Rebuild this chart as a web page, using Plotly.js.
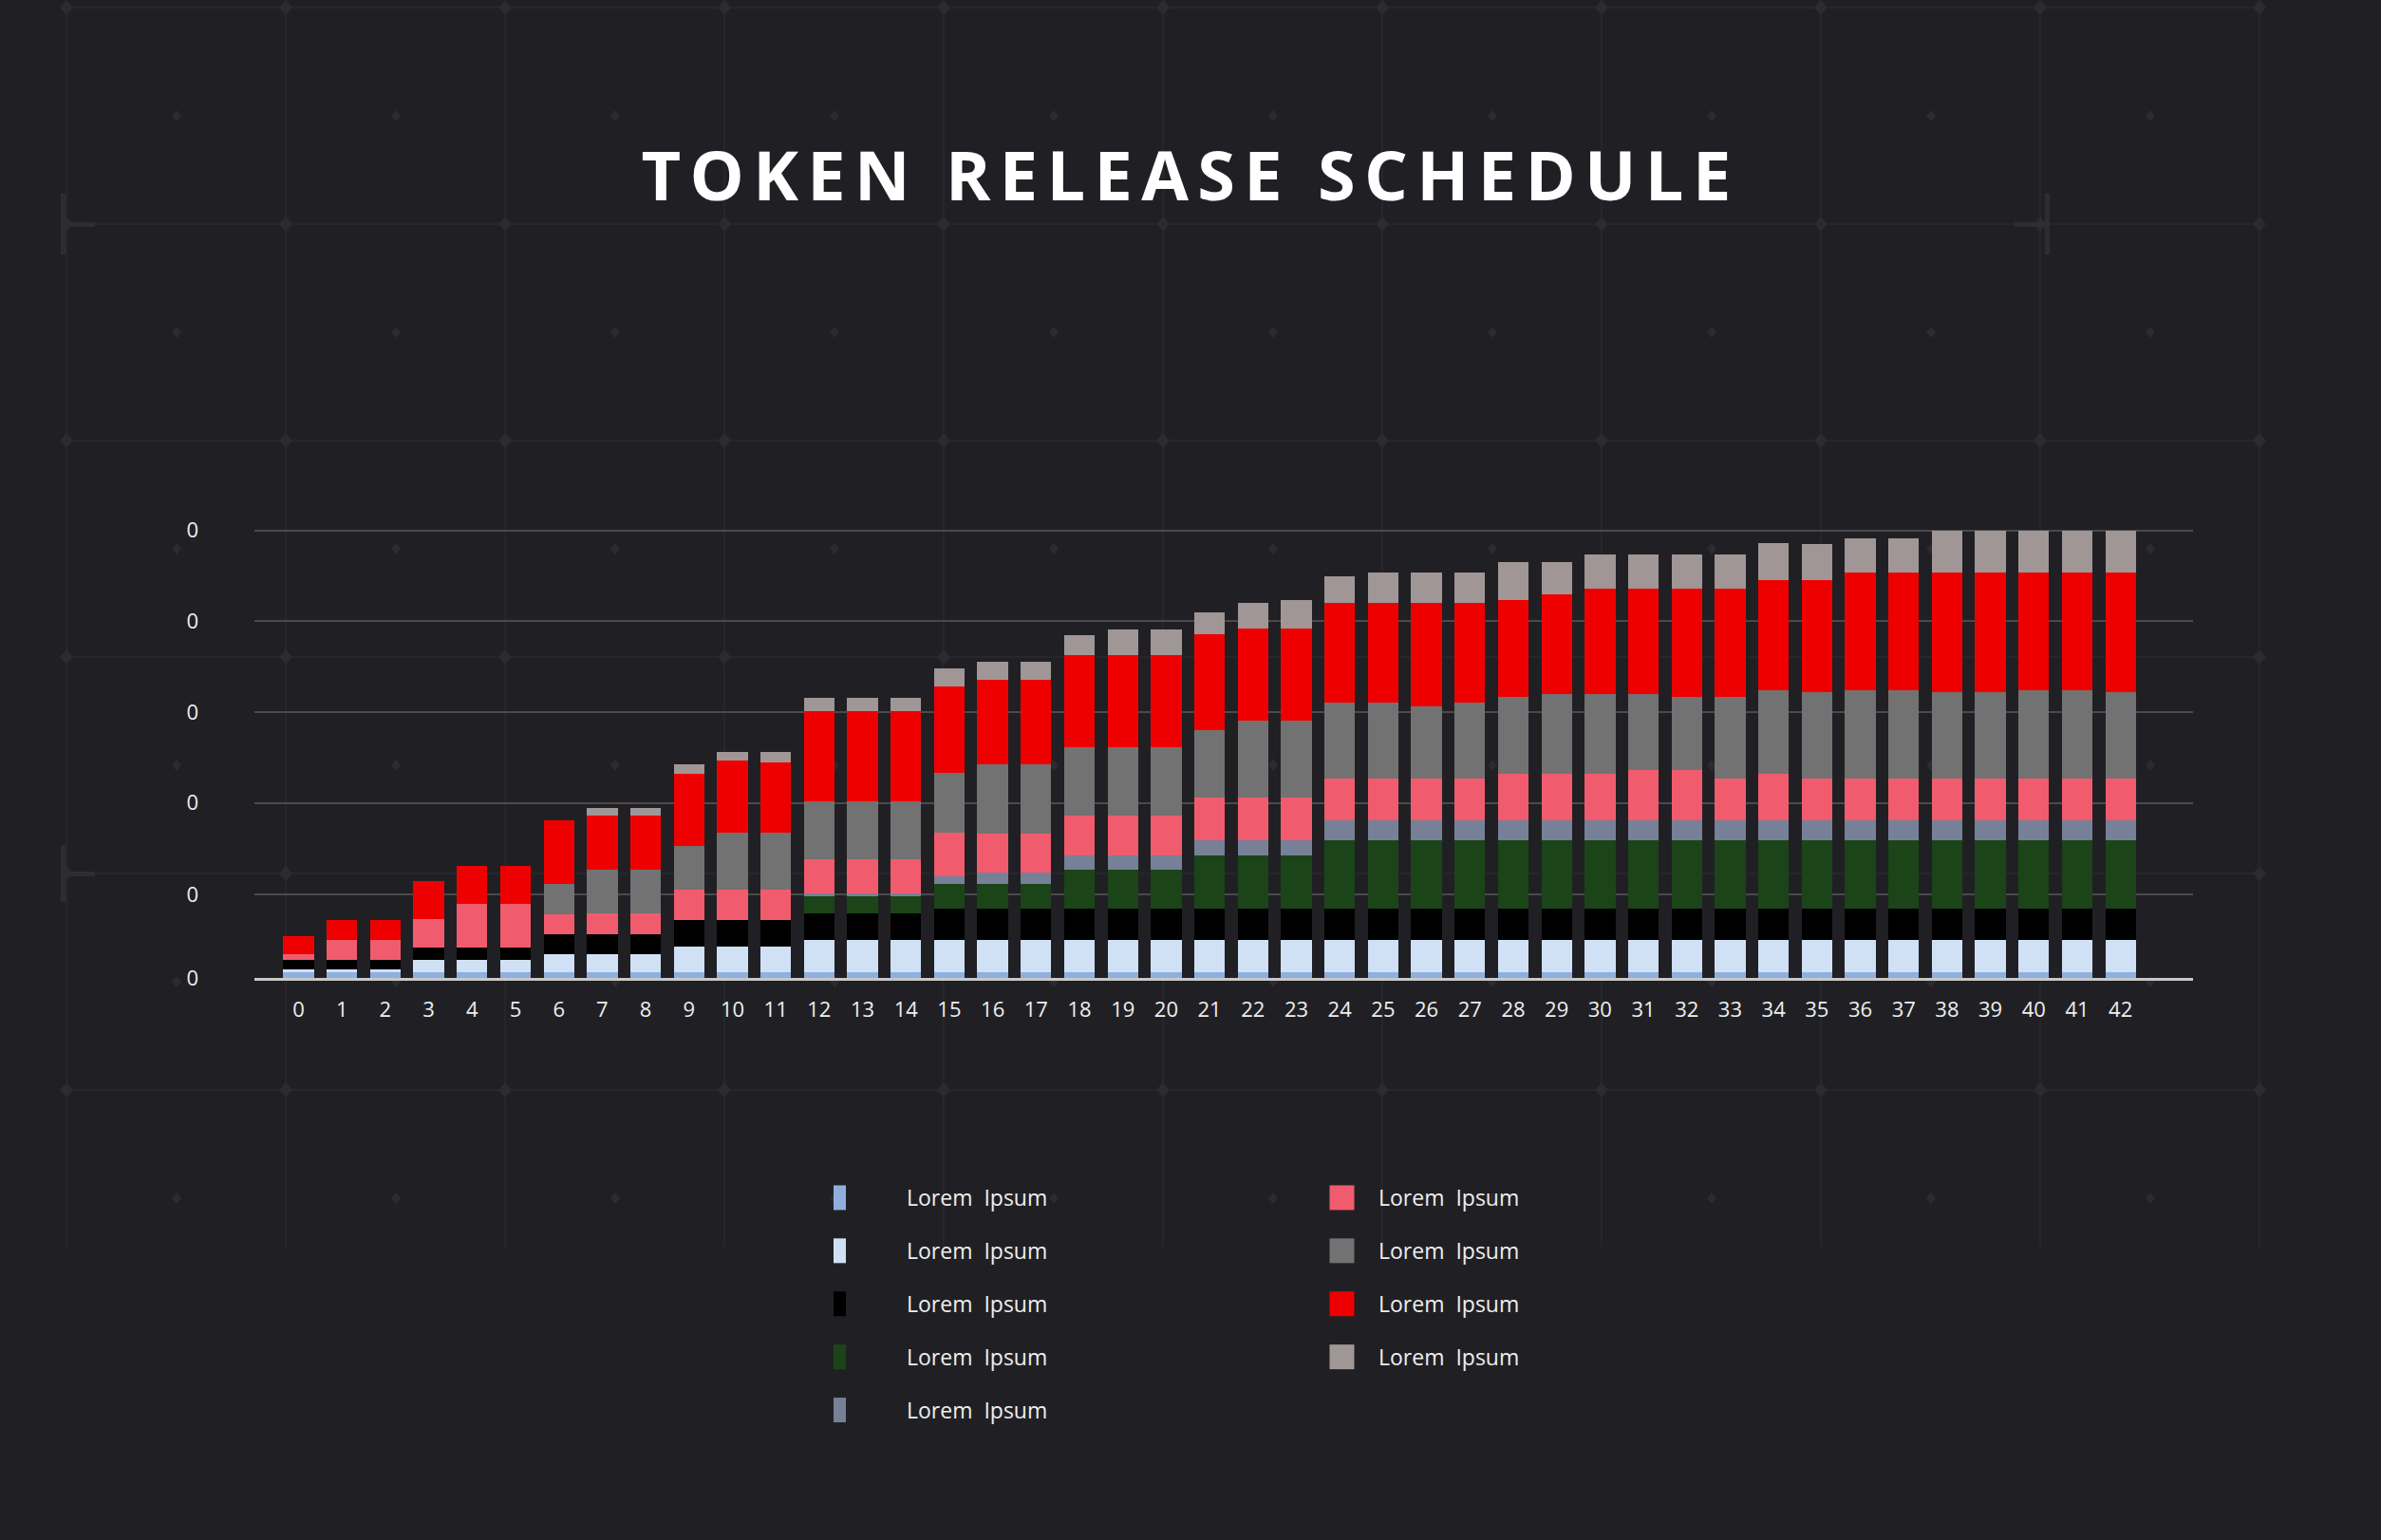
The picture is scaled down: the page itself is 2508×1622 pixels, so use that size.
<!DOCTYPE html>
<html>
<head>
<meta charset="utf-8">
<script src="https://cdn.plot.ly/plotly-3.0.1.min.js"></script>
<style>
html, body { margin: 0; padding: 0; background: #202024; }
#chart { width: 2508px; height: 1622px; }
.gtitle { letter-spacing: 0.13em; }
.infolayer .legendpoints path { d: path("M13,13H-13V-13H13Z"); }
</style>
</head>
<body>
<div id="chart"></div>
<script>
// ---------- DATA ----------
const categories = ["0","1","2","3","4","5","6","7","8","9","10","11","12","13","14","15","16","17","18","19","20",
  "21","22","23","24","25","26","27","28","29","30","31","32","33","34","35","36","37","38","39","40","41","42"];

const seriesNames = ["Lorem  Ipsum","Lorem  Ipsum","Lorem  Ipsum","Lorem  Ipsum","Lorem  Ipsum",
                     "Lorem  Ipsum","Lorem  Ipsum","Lorem  Ipsum","Lorem  Ipsum"];

const series1 = [1.2,1.2,1.2,1.2,1.2,1.2,1.2,1.2,1.2,1.2,1.2,1.2,1.2,1.2,1.2,1.2,1.2,1.2,1.2,1.2,1.2,
  1.2,1.2,1.2,1.2,1.2,1.2,1.2,1.2,1.2,1.2,1.2,1.2,1.2,1.2,1.2,1.2,1.2,1.2,1.2,1.2,1.2,1.2];
const series2 = [0.7,0.7,0.7,2.8,2.8,2.8,4.0,4.0,4.0,5.7,5.7,5.7,7.3,7.3,7.3,7.3,7.3,7.3,7.3,7.3,7.3,
  7.3,7.3,7.3,7.3,7.3,7.3,7.3,7.3,7.3,7.3,7.3,7.3,7.3,7.3,7.3,7.3,7.3,7.3,7.3,7.3,7.3,7.3];
const series3 = [2.1,2.1,2.1,2.8,2.8,2.8,4.5,4.5,4.5,6.0,6.0,6.0,6.0,6.0,6.0,6.9,6.9,6.9,6.9,6.9,6.9,
  6.9,6.9,6.9,6.9,6.9,6.9,6.9,6.9,6.9,6.9,6.9,6.9,6.9,6.9,6.9,6.9,6.9,6.9,6.9,6.9,6.9,6.9];
const series4 = [0,0,0,0,0,0,0,0,0,0,0,0,3.7,3.7,3.7,5.7,5.7,5.7,8.8,8.8,8.8,
  12.0,12.0,12.0,15.3,15.3,15.3,15.3,15.3,15.3,15.3,15.3,15.3,15.3,15.3,15.3,15.3,15.3,15.3,15.3,15.3,15.3,15.3];
const series5 = [0,0,0,0,0,0,0,0,0,0,0,0,0.7,0.7,0.7,1.6,2.4,2.4,3.2,3.2,3.2,
  3.3,3.3,3.3,4.5,4.5,4.5,4.5,4.5,4.5,4.5,4.5,4.5,4.5,4.5,4.5,4.5,4.5,4.5,4.5,4.5,4.5,4.5];
const series6 = [1.3,4.5,4.5,6.4,9.7,9.7,4.5,4.8,4.8,6.9,6.9,6.9,7.7,7.7,7.7,9.7,8.8,8.8,8.9,8.9,8.9,
  9.7,9.7,9.7,9.3,9.3,9.3,9.3,10.5,10.5,10.5,11.3,11.3,9.3,10.5,9.3,9.3,9.3,9.3,9.3,9.3,9.3,9.3];
const series7 = [0,0,0,0,0,0,6.9,9.7,9.7,9.8,12.6,12.6,12.9,12.9,12.9,13.4,15.4,15.4,15.3,15.3,15.3,
  15.0,17.0,17.0,17.0,17.0,16.2,17.0,17.0,17.8,17.8,17.0,16.2,18.2,18.6,19.4,19.8,19.8,19.4,19.4,19.8,19.8,19.4];
const series8 = [4.0,4.4,4.4,8.5,8.5,8.5,14.1,12.1,12.1,16.1,16.1,15.8,20.2,20.2,20.2,19.4,19.0,19.0,20.6,20.6,20.6,
  21.4,20.7,20.7,22.3,22.3,23.1,22.3,21.8,22.2,23.4,23.4,24.2,24.2,24.7,25.0,26.3,26.3,26.7,26.7,26.3,26.3,26.7];
const series9 = [0,0,0,0,0,0,0,1.6,1.6,2.1,2.0,2.3,2.8,2.8,2.8,4.0,4.0,4.0,4.5,5.7,5.7,
  4.9,5.7,6.4,6.0,6.9,6.9,6.9,8.5,7.3,7.7,7.7,7.7,7.7,8.1,8.1,7.6,7.6,9.3,9.3,9.3,9.3,9.3];

const yTickVals = [0, 18.7, 39.1, 59.4, 79.7, 100];
const yTickText = ["0", "0", "0", "0", "0", "0"];

const titleText = "TOKEN RELEASE SCHEDULE";

// ---------- STYLE ----------
const seriesColors = ["#8fb0df", "#d0e0f5", "#000000", "#1b4419", "#768096",
                      "#f05c6d", "#727272", "#ee0000", "#a09696"];
const allSeries = [series1, series2, series3, series4, series5, series6, series7, series8, series9];

const W = 2508, H = 1622;
const PL = 268, PR = 2310, PT = 556, PB = 1030;
const px2x = p => (p - PL) / (PR - PL);
const px2y = p => (PB - p) / (PB - PT);

const traces = allSeries.map((vals, i) => ({
  type: "bar",
  name: seriesNames[i],
  x: categories,
  y: vals,
  marker: { color: seriesColors[i], line: { width: 0 } },
  legend: i < 5 ? "legend" : "legend2",
  legendgroup: "g" + i,
  hoverinfo: "x+y+name"
}));

// ---------- BACKGROUND DECORATION ----------
const shapes = [];
const deco = "#26262b", decoDiamond = "#2b2b30", decoMark = "#2d2d32";
const vx = [], hy = [];
for (let k = 0; k <= 10; k++) vx.push(70 + 231 * k);
for (let k = 0; k <= 5; k++) hy.push(8 + 228 * k);
vx.forEach(x => shapes.push({type: "line", xref: "paper", yref: "paper", layer: "below",
  x0: px2x(x), x1: px2x(x), y0: px2y(8), y1: px2y(1313), line: {color: deco, width: 2}}));
hy.forEach(y => shapes.push({type: "line", xref: "paper", yref: "paper", layer: "below",
  x0: px2x(70), x1: px2x(2380), y0: px2y(y), y1: px2y(y), line: {color: deco, width: 2}}));
function diamond(cx, cy, a, b) {
  return {type: "path", xref: "paper", yref: "paper", layer: "below",
    path: `M${px2x(cx - a)},${px2y(cy)} L${px2x(cx)},${px2y(cy - b)} L${px2x(cx + a)},${px2y(cy)} L${px2x(cx)},${px2y(cy + b)} Z`,
    fillcolor: decoDiamond, line: {width: 0}};
}
vx.forEach(x => hy.forEach(y => shapes.push(diamond(x, y, 7, 8))));
for (let i = 0; i < 10; i++) for (let j = 0; j < 6; j++) shapes.push(diamond(186 + 231 * i, 122 + 228 * j, 5, 6));
function rect(x0, y0, x1, y1) {
  return {type: "rect", xref: "paper", yref: "paper", layer: "below",
    x0: px2x(x0), x1: px2x(x1), y0: px2y(y0), y1: px2y(y1), fillcolor: decoMark, line: {width: 0}};
}
shapes.push(rect(64, 204, 69, 268), rect(64, 234, 100, 239));
shapes.push(rect(64, 890, 69, 950), rect(64, 918, 100, 923));
shapes.push(rect(2154, 204, 2159, 268), rect(2122, 234, 2159, 239));

const legendFont = { family: "Open Sans, sans-serif", size: 23, color: "#eeeeee" };
const tickFont = { family: "Open Sans, sans-serif", size: 22, color: "#eeeeee" };

const layout = {
  width: W, height: H,
  paper_bgcolor: "#202024",
  plot_bgcolor: "rgba(0,0,0,0)",
  margin: { l: PL, r: W - PR, t: PT, b: H - PB, pad: 0, autoexpand: false },
  barmode: "stack",
  bargap: 0.293,
  title: {
    text: titleText,
    x: 0.5, xref: "container", xanchor: "center",
    y: 1 - 186 / H, yref: "container", yanchor: "middle",
    font: { family: "Open Sans, sans-serif", size: 72, color: "#ffffff", weight: 700 }
  },
  xaxis: {
    type: "category",
    range: [-1.018, 43.67],
    showgrid: false, zeroline: false,
    showline: true, linecolor: "#c8c8c8", linewidth: 3,
    ticks: "", ticklabelstandoff: 12,
    tickfont: tickFont,
    automargin: false,
    fixedrange: true
  },
  yaxis: {
    range: [0, (PB - PT) / 4.713],
    tickvals: yTickVals, ticktext: yTickText,
    showgrid: true, gridcolor: "#4a4a4c", gridwidth: 2,
    zeroline: false, showline: false, ticks: "",
    ticklabelstandoff: 58,
    tickfont: tickFont,
    automargin: false,
    fixedrange: true
  },
  legend: {
    x: 878 / W, y: 1 - 1240 / H, xref: "container", yref: "container",
    xanchor: "left", yanchor: "top",
    bgcolor: "rgba(0,0,0,0)", borderwidth: 0,
    traceorder: "grouped", tracegroupgap: 23, itemwidth: 67,
    font: legendFont, itemclick: false, itemdoubleclick: false
  },
  legend2: {
    x: 1375 / W, y: 1 - 1240 / H, xref: "container", yref: "container",
    xanchor: "left", yanchor: "top",
    bgcolor: "rgba(0,0,0,0)", borderwidth: 0,
    traceorder: "grouped", tracegroupgap: 23, itemwidth: 67,
    font: legendFont, itemclick: false, itemdoubleclick: false
  },
  shapes: shapes,
  showlegend: true
};

// legend swatches: 26px squares whose centre sits 37px left of the label, as in the reference
function fixSwatches() {
  document.querySelectorAll("g.traces").forEach(tr => {
    const txt = tr.querySelector(".legendtext");
    const p = tr.querySelector(".legendpoints path");
    if (!txt || !p) return;
    const tRect = txt.getBoundingClientRect();
    const pRect = p.getBoundingClientRect();
    if (!tRect.width || !pRect.height) return;
    const ctm = p.parentNode.getScreenCTM();
    if (!ctm) return;
    const pt = new DOMPoint(tRect.left - 37, pRect.top + pRect.height / 2).matrixTransform(ctm.inverse());
    p.removeAttribute("transform");
    p.setAttribute("d", `M${pt.x - 13},${pt.y - 13}h26v26h-26Z`);
  });
}

Plotly.newPlot("chart", traces, layout, { staticPlot: true, displayModeBar: false }).then(gd => {
  fixSwatches();
  gd.on("plotly_afterplot", fixSwatches);
  setTimeout(fixSwatches, 30);
  setTimeout(fixSwatches, 200);
  requestAnimationFrame(() => requestAnimationFrame(fixSwatches));
});
</script>
</body>
</html>
